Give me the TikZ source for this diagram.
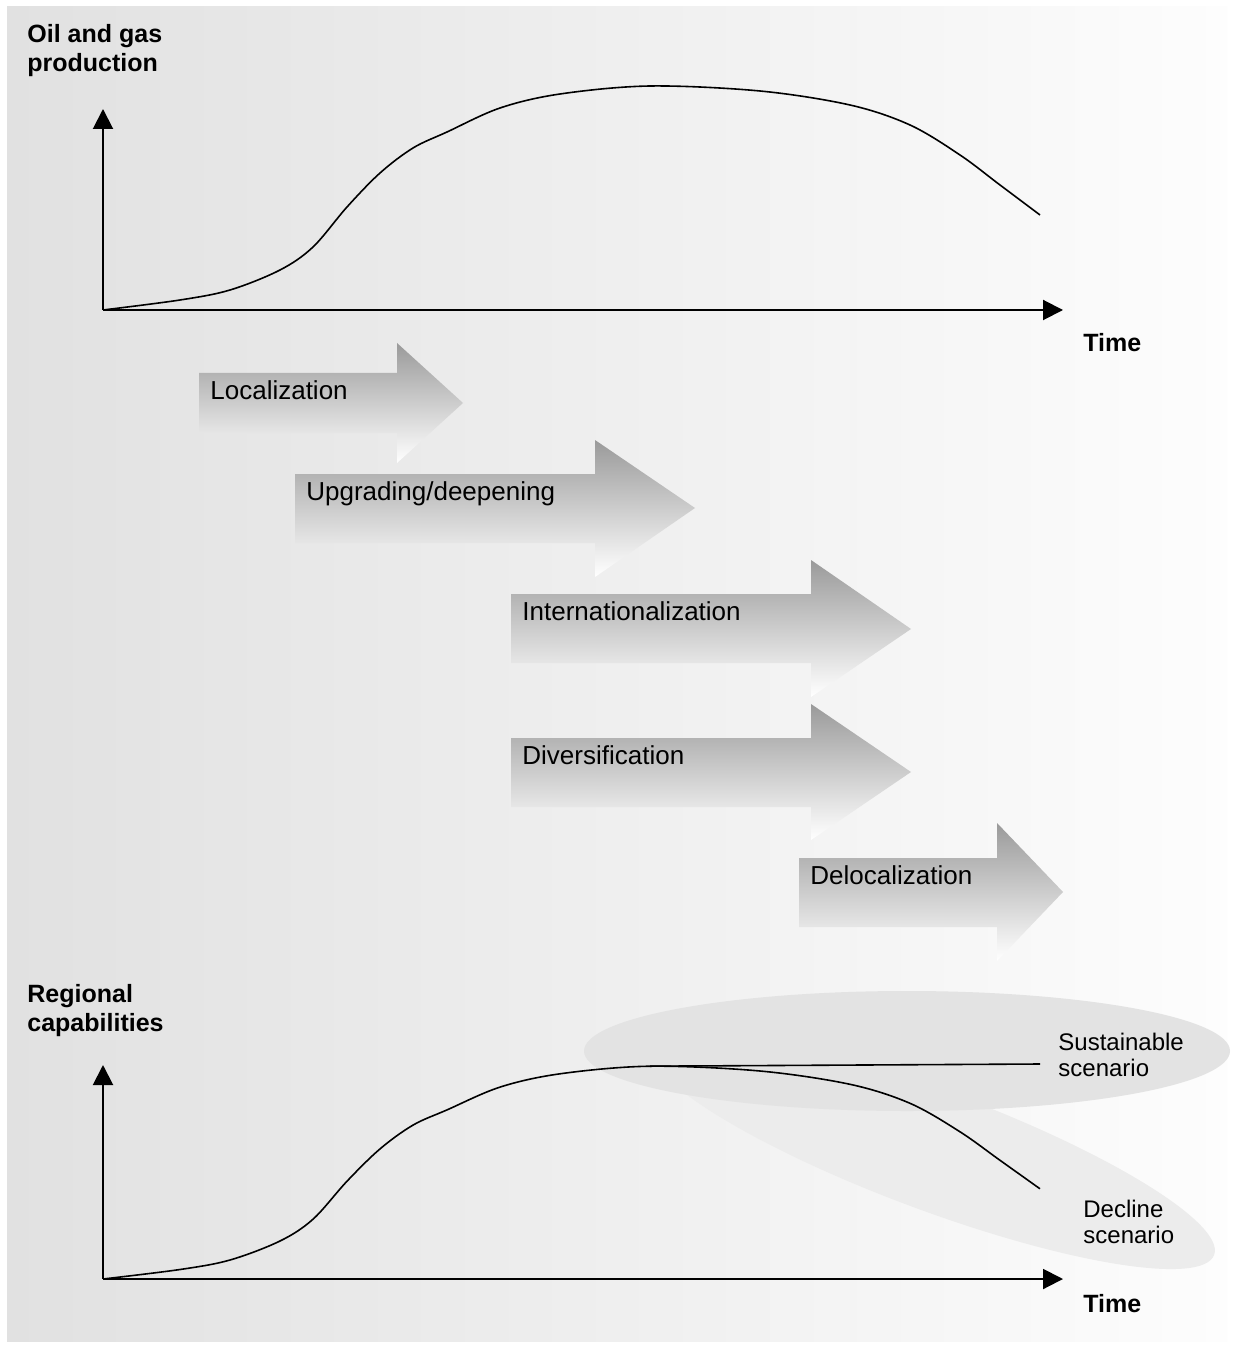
\documentclass[tikz,border=0pt]{standalone}
\usepackage{fontspec}
\setmainfont{Liberation Sans}
\usetikzlibrary{arrows.meta}
\definecolor{bgL}{HTML}{E1E1E1}
\definecolor{bgR}{HTML}{FDFDFD}
\definecolor{susC}{HTML}{E3E3E3}
\definecolor{decC}{HTML}{ECECEC}
\definecolor{arrTop}{HTML}{9A9A9A}
\newcommand{\myblockarrow}[9]{%
  \path[blockarrow] (#1,#2) -- (#4,#2) -- (#4,#5) -- (#7,#8) -- (#4,#6) -- (#4,#3) -- (#1,#3) -- cycle;
  \node[arrlabel] at (#1+11,#2+7) {#9};}
\begin{document}
\begin{tikzpicture}[x=0.5pt,y=-0.5pt,
  axis/.style={line width=1pt,-{Triangle[length=10pt,width=10pt]}},
  curve/.style={line width=0.8pt},
  blockarrow/.style={top color=arrTop,bottom color=white,draw=none},
  arrlabel/.style={anchor=north west,inner sep=0pt,font=\fontsize{13}{15}\selectfont},
  axlabel/.style={anchor=north west,inner sep=0pt,align=left,font=\bfseries\fontsize{12.5}{14.5}\selectfont},
  scnlabel/.style={anchor=north west,inner sep=0pt,align=left,font=\fontsize{12}{13}\selectfont}]
\useasboundingbox (0,0) rectangle (1233,1347);
\fill[white] (0,0) rectangle (1233,1347);
\shade[left color=bgL,right color=bgR] (7,7) rectangle (1227,1341);

% ---------- upper chart ----------
\coordinate (o1) at (103,310);
\coordinate (y1) at (103,109);
\coordinate (x1) at (1063,310);
\draw[curve] plot[smooth,tension=0.55] coordinates {(103,310) (180,300) (230,290) (280,270) (313,247) (347,207) (380,173) (413,148) (447,132) (500,108) (560,94) (650,86) (760,91) (850,105) (910,125) (960,155) (1000,185) (1040,215)};
\draw[axis] (o1) -- (y1);
\draw[axis] (o1) -- (x1);
\node[axlabel] (lab1) at (27,24) {Oil and gas\\production};
\node[axlabel] (time1) at (1083,333) {Time};

% ---------- block arrows ----------
\myblockarrow{199}{373}{433}{397}{343}{463}{463}{403}{Localization}
\myblockarrow{295}{474}{543}{595}{440}{577}{695}{508}{Upgrading/deepening}
\myblockarrow{511}{594}{663}{811}{560}{697}{911}{629}{Internationalization}
\myblockarrow{511}{738}{807}{811}{704}{840}{911}{772}{Diversification}
\myblockarrow{799}{858}{927}{997}{823}{961}{1063}{892}{Delocalization}

% ---------- lower chart ----------
\fill[decC, rotate around={-20.4:(932,1150)}] (932,1150) ellipse [x radius=301, y radius=60];
\fill[susC] (907,1051) ellipse [x radius=323, y radius=60];
\coordinate (o2) at (103,1279);
\coordinate (y2) at (103,1065);
\coordinate (x2) at (1063,1279);
\draw[curve] plot[smooth,tension=0.55] coordinates {(103,1279) (180,1269.5) (230,1260) (280,1241) (313,1219.2) (347,1181.2) (380,1148.9) (413,1125.1) (447,1109.9) (500,1087.1) (560,1073.8) (650,1066.2) (760,1071) (850,1084.3) (910,1103.3) (960,1131.8) (1000,1160.3) (1040,1188.8)};
\draw[curve] (650,1066.2) -- (1040,1064);
\draw[axis] (o2) -- (y2);
\draw[axis] (o2) -- (x2);
\node[axlabel] (lab2) at (27,984) {Regional\\capabilities};
\node[axlabel] (time2) at (1083,1294) {Time};
\node[scnlabel] (sus) at (1058,1033) {Sustainable\\scenario};
\node[scnlabel] (dec) at (1083,1200) {Decline\\scenario};
\end{tikzpicture}
\end{document}
